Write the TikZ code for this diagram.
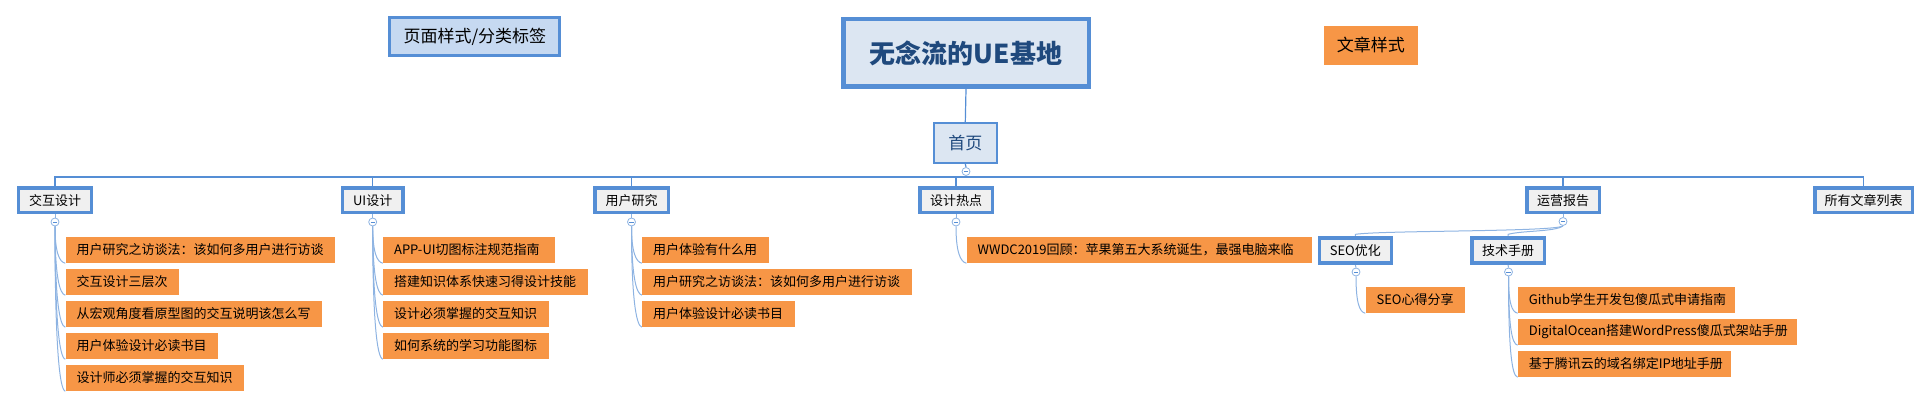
\documentclass[tikz,border=0pt]{standalone}
\usepackage{fontspec}
\setmainfont{Noto Sans CJK SC}
\usetikzlibrary{calc}
\definecolor{bl}{HTML}{558ED5}
\definecolor{lbl}{HTML}{8DB3E2}
\definecolor{org}{HTML}{F79646}
\definecolor{ttl}{HTML}{DCE6F2}
\definecolor{pg}{HTML}{C6D9F1}
\definecolor{gr}{HTML}{F0F0F0}
\definecolor{tdark}{HTML}{1F497D}
\newcommand\leaftxt[2]{\makebox[#1pt][l]{#2}}
\pgfdeclarelayer{bg}
\pgfsetlayers{bg,main}
\begin{document}
\begin{tikzpicture}[x=1pt,y=-1pt,
 conn/.style={draw=bl,line width=1.2pt},
 lc/.style={draw=lbl,line width=1pt},
 lvl/.style={draw=bl,fill=gr,line width=3.5pt,inner sep=0pt,minimum height=24.8pt,font=\fontsize{13}{15}\selectfont,text=black},
 leaf/.style={fill=org,anchor=west,inner xsep=11pt,inner ysep=0pt,minimum height=26pt,font=\fontsize{13}{15}\selectfont,text=black},
 tog/.style={circle,draw=lbl,fill=white,line width=0.8pt,minimum size=8pt,inner sep=0pt,
   path picture={\draw[bl,line width=0.8pt] ([xshift=-2.2pt]path picture bounding box.center)--([xshift=2.2pt]path picture bounding box.center);}},
]
\useasboundingbox (0,0) rectangle (1932,409);

% top nodes
\node[draw=bl,fill=ttl,line width=4.5pt,minimum width=245.5pt,minimum height=67.5pt,inner sep=0pt,
  font=\fontsize{26}{30}\selectfont\bfseries,text=tdark] (root) at (966,53) {无念流的UE基地};
\node[draw=bl,fill=pg,line width=3pt,minimum width=170pt,minimum height=38.5pt,inner sep=0pt,
  font=\fontsize{17}{20}\selectfont] (pagestyle) at (474.9,36.5) {页面样式/分类标签};
\node[fill=org,minimum width=93.6pt,minimum height=38.7pt,inner sep=0pt,
  font=\fontsize{17}{20}\selectfont] (artstyle) at (1370.8,45.3) {文章样式};
\node[draw=bl,fill=ttl,line width=2pt,minimum width=62.7pt,minimum height=40pt,inner sep=0pt,
  font=\fontsize{17}{20}\selectfont,text=tdark] (home) at (965.3,143) {首页};
\node[tog] (th) at (966,171.5) {};
\coordinate (bus) at (966,177);

% level 1
\node[lvl,minimum width=73pt] (n1) at (55,200.2) {交互设计};
\node[lvl,minimum width=60.6pt] (n2) at (372.7,200.2) {UI设计};
\node[lvl,minimum width=73.5pt] (n3) at (631.5,200.2) {用户研究};
\node[lvl,minimum width=72.5pt] (n4) at (956,200.2) {设计热点};
\node[lvl,minimum width=72.5pt] (n5) at (1563,200.2) {运营报告};
\node[lvl,minimum width=97.5pt] (n6) at (1863.5,200.2) {所有文章列表};

\node[tog] (t1) at (55,222) {};
\node[tog] (t2) at (372.7,222) {};
\node[tog] (t3) at (631.5,222) {};
\node[tog] (t4) at (956,222) {};
\node[tog] (t5) at (1563,221.5) {};

% level 2 under 运营报告
\node[lvl,minimum width=72pt] (seo) at (1355.3,250.5) {SEO优化};
\node[lvl,minimum width=72.5pt] (tech) at (1508,250.5) {技术手册};
\node[tog] (ts) at (1356,272) {};
\node[tog] (tt) at (1508.5,272) {};

% leaves
\node[leaf] (a1) at (65.3,250) {\leaftxt{247.4}{用户研究之访谈法：该如何多用户进行访谈}};
\node[leaf] (a2) at (65.3,282) {\leaftxt{91.5}{交互设计三层次}};
\node[leaf] (a3) at (65.3,314) {\leaftxt{234.3}{从宏观角度看原型图的交互说明该怎么写}};
\node[leaf] (a4) at (65.3,346) {\leaftxt{130.3}{用户体验设计必读书目}};
\node[leaf] (a5) at (65.3,378) {\leaftxt{156.4}{设计师必须掌握的交互知识}};

\node[leaf] (b1) at (382.9,250) {\leaftxt{150.1}{APP-UI切图标注规范指南}};
\node[leaf] (b2) at (382.9,282) {\leaftxt{182.9}{搭建知识体系快速习得设计技能}};
\node[leaf] (b3) at (382.9,314) {\leaftxt{143.7}{设计必须掌握的交互知识}};
\node[leaf] (b4) at (382.9,346) {\leaftxt{143.7}{如何系统的学习功能图标}};

\node[leaf] (c1) at (642,250) {\leaftxt{105}{用户体验有什么用}};
\node[leaf] (c2) at (642,282) {\leaftxt{247.4}{用户研究之访谈法：该如何多用户进行访谈}};
\node[leaf] (c3) at (642,314) {\leaftxt{131}{用户体验设计必读书目}};

\node[leaf] (d1) at (966.5,250) {\leaftxt{323.5}{WWDC2019回顾：苹果第五大系统诞生，最强电脑来临}};

\node[leaf] (e1) at (1365.3,300) {\leaftxt{77.2}{SEO心得分享}};

\node[leaf] (f1) at (1517.6,300) {\leaftxt{194.7}{Github学生开发包傻瓜式申请指南}};
\node[leaf] (f2) at (1517.6,332) {\leaftxt{257.4}{DigitalOcean搭建WordPress傻瓜式架站手册}};
\node[leaf] (f3) at (1517.6,364) {\leaftxt{191}{基于腾讯云的域名绑定IP地址手册}};

\begin{pgfonlayer}{bg}
\draw[conn] (root.south) -- (home.north);
\draw[conn] (home.south) -- (th.north);
\draw[conn] (th.south) -- (bus);
\foreach \n in {n1,n2,n3,n4,n5,n6} \draw[conn] (bus) -| (\n.north);
\foreach \n/\t in {n1/t1,n2/t2,n3/t3,n4/t4,n5/t5,seo/ts,tech/tt} \draw[lc] (\n.south) -- (\t.north);
\foreach \t/\l in {t1/a1,t1/a2,t1/a3,t1/a4,t1/a5,t2/b1,t2/b2,t2/b3,t2/b4,t3/c1,t3/c2,t3/c3,t4/d1,ts/e1,tt/f1,tt/f2,tt/f3}
  \draw[lc] (\t.south) .. controls ($(\t.south)!0.7!(\t.south |- \l.south west)$) and ($(\l.south west)+(-6,-1)$) .. (\l.south west);
\draw[lc] (t5.south) .. controls +(-8,6) and +(25,-4) .. ($(seo.north)+(0,-2)$) -- (seo.north);
\draw[lc] (t5.south) .. controls +(-8,6) and +(15,-4) .. ($(tech.north)+(0,-2)$) -- (tech.north);
\end{pgfonlayer}
\end{tikzpicture}
\end{document}
